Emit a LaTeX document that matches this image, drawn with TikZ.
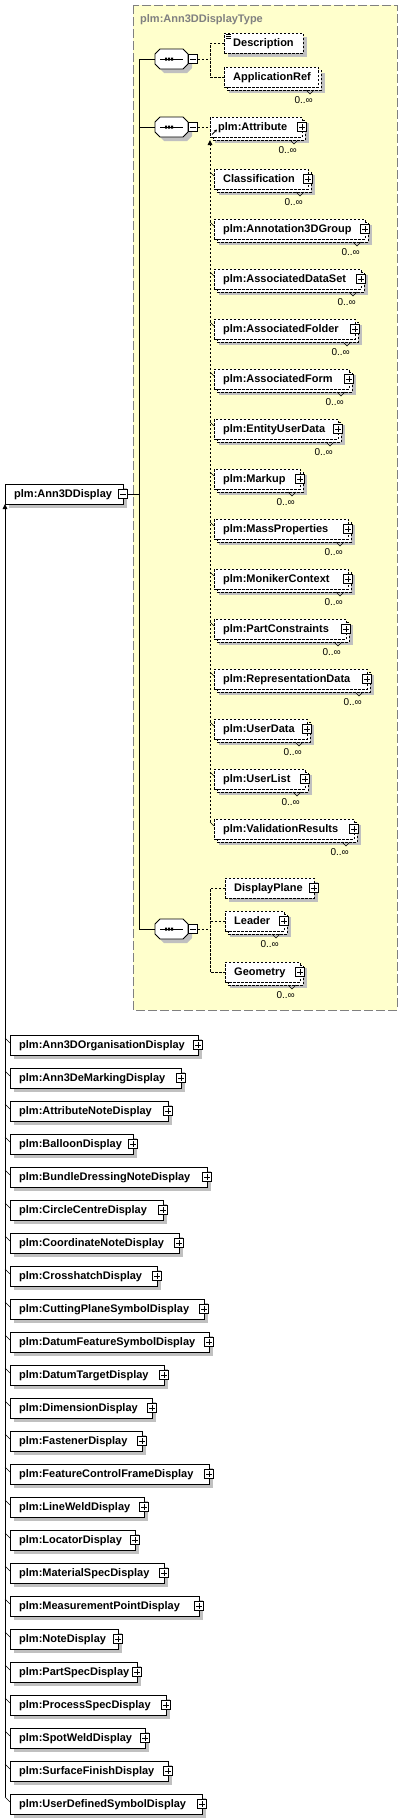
\documentclass[tikz,border=0pt]{standalone}
\usepackage{fontspec}
\setmainfont{Liberation Sans}
\usetikzlibrary{calc,arrows.meta}
\definecolor{yel}{RGB}{255,255,204}
\definecolor{shd}{RGB}{192,192,192}
\definecolor{ttl}{RGB}{128,128,128}
\tikzset{
  ln/.style={line width=0.9pt},
  dsh/.style={dash pattern=on 2.5pt off 1.5pt},
  ebox/.style={draw, line width=0.9pt, fill=white, rectangle, inner sep=0pt, outer sep=0pt, minimum height=20pt, anchor=north west},
  lbl/.style={font=\bfseries\fontsize{11}{13}\selectfont, anchor=base west, inner sep=0pt},
  ttlstyle/.style={font=\bfseries\fontsize{11}{13}\selectfont, anchor=base west, inner sep=0pt, text=ttl},
  mult/.style={font=\fontsize{10}{12}\selectfont, anchor=base east, inner sep=0pt},
  pm/.style={draw, line width=0.8pt, fill=white, minimum size=9.5pt, inner sep=0pt, outer sep=0pt},
  plusb/.style={pm, path picture={\draw[line width=0.8pt] ([yshift=-2pt]path picture bounding box.north)--([yshift=2pt]path picture bounding box.south) ([xshift=2pt]path picture bounding box.west)--([xshift=-2pt]path picture bounding box.east);}},
  minusb/.style={pm, path picture={\draw[line width=0.8pt] ([xshift=2pt]path picture bounding box.west)--([xshift=-2pt]path picture bounding box.east);}},
  tip/.style={-{Triangle[length=5pt,width=4.5pt]}}
}
% sequence compositor: name, centre y
\newcommand\xseq[2]{%
  \fill[shd] (159,{#2-1}) -- (164,{#2-6}) -- (187,{#2-6}) -- (192,{#2-1}) -- (192,{#2+9}) -- (187,{#2+14}) -- (164,{#2+14}) -- (159,{#2+9}) -- cycle;
  \draw[ln,fill=white] (155,{#2-5}) -- (160,{#2-10}) -- (183,{#2-10}) -- (188,{#2-5}) -- (188,{#2+5}) -- (183,{#2+10}) -- (160,{#2+10}) -- (155,{#2+5}) -- cycle;
  \draw[ln] (160,#2) -- (183,#2);
  \fill (165,{#2-1.5}) rectangle (167.2,{#2+1.5}) (168,{#2-1.5}) rectangle (170.2,{#2+1.5}) (171,{#2-1.5}) rectangle (173.2,{#2+1.5});
  \coordinate (#1w) at (155,#2);
  \node[minusb] (#1m) at (193,#2) {};
}
% solid element: name, left, top, right, text
\newcommand\xsolid[5]{%
  \fill[shd] ({#2+4},{#3+4}) rectangle ({#4+4},{#3+24});
  \node[ebox,minimum width={#4-#2}] (#1) at (#2,#3) {};
  \node[lbl] at ($(#1.west)+(9,3.8)$) {#5};
  \node[plusb] at (#1.east) {};
}
% optional single element: name, left, top, right, text, plus
\newcommand\xoptone[6]{%
  \fill[shd] ({#2+4},{#3+4}) rectangle ({#4+4},{#3+24});
  \node[ebox,dsh,minimum width={#4-#2}] (#1) at (#2,#3) {};
  \node[lbl] at ($(#1.west)+(9,3.8)$) {#5};
  \ifnum#6=1 \node[plusb] at (#1.east) {};\fi
}
% optional repeated element: name, left, top, right, text, plus
\newcommand\xoptmany[6]{%
  \fill[shd] ({#2+5},{#3+6}) rectangle ({#4+7},{#3+26});
  \draw[ln,dsh,fill=white] ({#2+3},{#3+3}) rectangle ({#4+3},{#3+23});
  \node[ebox,dsh,minimum width={#4-#2}] (#1) at (#2,#3) {};
  \node[lbl] at ($(#1.west)+(9,3.8)$) {#5};
  \ifnum#6=1 \node[plusb] at (#1.east) {};\fi
  \draw[line width=0.6pt] ({#4-12},{#3+23}) -- ({#4-8},{#3+27}) -- ({#4-4},{#3+23});
  \node[mult] at ({#4-5},{#3+36.5}) {0..∞};
}
\begin{document}
\begin{tikzpicture}[x=1pt,y=-1pt]
\useasboundingbox (0,0) rectangle (402,1820);
\fill[white] (0,0) rectangle (402,1820);
% complex type frame
\draw[ttl, line width=1pt, dash pattern=on 9pt off 3pt, fill=yel] (133,5) rectangle (397,1010);
\node[ttlstyle] (title) at (140,23) {plm:Ann3DDisplayType};
% root element
\fill[shd] (9,488) rectangle (127,508);
\node[ebox,minimum width=118] (main) at (5,484) {};
\node[lbl] at ($(main.west)+(9,3.8)$) {plm:Ann3DDisplay};
\node[minusb] (mainm) at (main.east) {};
\coordinate (vj) at (139,494);
\draw[ln] (mainm.east) -- (vj);
% sequences
\xseq{q1}{59}
\xseq{q2}{127}
\xseq{q3}{929}
\draw[ln] (q1w -| vj) -- (q3w -| vj);
\draw[ln] (q1w -| vj) -- (q1w);
\draw[ln] (q2w -| vj) -- (q2w);
\draw[ln] (q3w -| vj) -- (q3w);
% sequence 1
\xoptone{desc}{224}{33}{303}{Description}{0}
\draw[line width=0.6pt] (226,34.5) -- (231,34.5) (226,36.5) -- (231,36.5) (226,38.5) -- (231,38.5);
\xoptmany{appref}{224}{67}{318}{ApplicationRef}{0}
\coordinate (j1) at (210,59);
\draw[ln,dsh] (q1m.east) -- (j1);
\draw[ln,dsh] (desc.west) -| (j1) |- (appref.west);
% sequence 2: substitution group
\xoptmany{attr}{210}{117}{302}{\hspace{-1pt}plm:Attribute}{1}
\draw[ln,dsh] (q2m.east) -- (attr.west);
\draw[line width=0.8pt,-{Stealth[length=3pt,width=3pt]}] ($(attr.south west)+(2,-2.5)$) -- ++(5,-5);
\foreach \i/\nm/\rr in {0/Classification/308,1/plm:Annotation3DGroup/365,2/plm:AssociatedDataSet/361,3/plm:AssociatedFolder/355,4/plm:AssociatedForm/349,5/plm:EntityUserData/338,6/plm:Markup/300,7/plm:MassProperties/348,8/plm:MonikerContext/348,9/plm:PartConstraints/346,10/plm:RepresentationData/367,11/plm:UserData/307,12/plm:UserList/305,13/plm:ValidationResults/354}{
  \pgfmathsetmacro\tp{169+50*\i}
  \xoptmany{m\i}{214}{\tp}{\rr}{\nm}{1}
  \draw[line width=0.6pt] (210,{\tp+3}) -- ($(m\i.north west)+(0,7)$);
}
\coordinate (sb) at (210,822);
\draw[ln,dsh,tip] (sb) -- ($(attr.south west)+(0,3)$);
% sequence 3
\xoptone{dp}{225}{878}{314}{DisplayPlane}{1}
\xoptmany{lead}{225}{911}{284}{Leader}{1}
\xoptmany{geo}{225}{962}{300}{Geometry}{1}
\coordinate (j3) at (210,929);
\draw[ln,dsh] (q3m.east) -- (j3);
\draw[ln,dsh] (dp.west) -| (j3) |- (geo.west);
\draw[ln,dsh] (lead.west) -- (lead.west -| j3);
% derived types
\foreach \i/\nm/\rr in {0/Ann3DOrganisationDisplay/198,1/Ann3DeMarkingDisplay/181,2/AttributeNoteDisplay/168,3/BalloonDisplay/133,4/BundleDressingNoteDisplay/207,5/CircleCentreDisplay/163,6/CoordinateNoteDisplay/179,7/CrosshatchDisplay/157,8/CuttingPlaneSymbolDisplay/204,9/DatumFeatureSymbolDisplay/209,10/DatumTargetDisplay/164,11/DimensionDisplay/152,12/FastenerDisplay/142,13/FeatureControlFrameDisplay/209,14/LineWeldDisplay/144,15/LocatorDisplay/135,16/MaterialSpecDisplay/164,17/MeasurementPointDisplay/199,18/NoteDisplay/118,19/PartSpecDisplay/137,20/ProcessSpecDisplay/166,21/SpotWeldDisplay/145,22/SurfaceFinishDisplay/168,23/UserDefinedSymbolDisplay/202}{
  \pgfmathsetmacro\tp{1035+33*\i}
  \xsolid{s\i}{10}{\tp}{\rr}{plm:\nm}
  \draw[line width=0.6pt] (5,{\tp+3}) -- ($(s\i.north west)+(0,8)$);
}
\coordinate (mb) at (5,1797);
\draw[ln,tip] (mb) -- (main.south west);
\end{tikzpicture}
\end{document}
